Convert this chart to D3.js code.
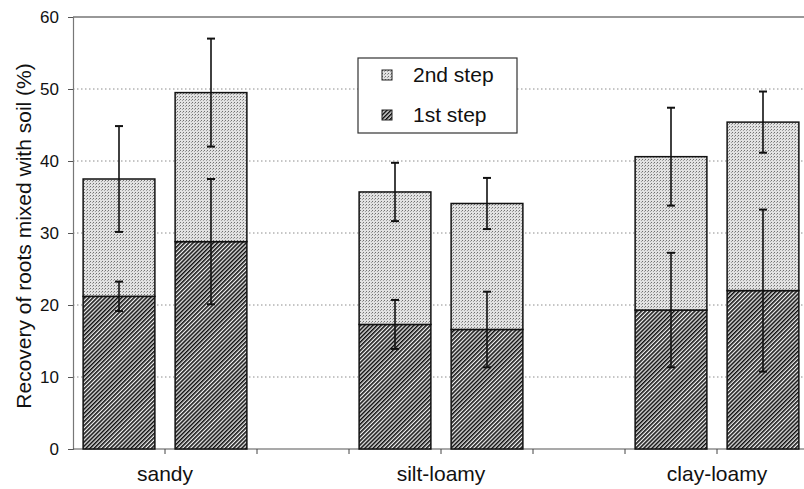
<!DOCTYPE html>
<html>
<head>
<meta charset="utf-8">
<script src="https://cdn.jsdelivr.net/npm/d3@7"></script>
<style>
  body { margin: 0; background: #fff; }
  svg { display: block; font-family: "Liberation Sans", Arial, sans-serif; }
</style>
</head>
<body>
<svg id="chart" width="804" height="489"></svg>
<script>
// soil types and the two bars in each group
const soilTypes = ["sandy", "silt-loamy", "clay-loamy"];
const slots = ["sandy-a", "sandy-b", "gap-1", "silt-a", "silt-b", "gap-2", "clay-a", "clay-b"];
const barSlots = ["sandy-a", "sandy-b", "silt-a", "silt-b", "clay-a", "clay-b"];

// recovery (%) per step
const firstStep  = [21.2, 28.8, 17.3, 16.6, 19.3, 22.0];
const secondStep = [16.3, 20.7, 18.4, 17.5, 21.3, 23.4];
// error bar half widths
const firstStepErr = [2.05, 8.7, 3.4, 5.25, 7.95, 11.25];
const totalErr     = [7.35, 7.5, 4.05, 3.55, 6.8, 4.25];

const yTicks = [0, 10, 20, 30, 40, 50, 60];
const legendItems = [
  { key: "second", label: "2nd step" },
  { key: "first", label: "1st step" }
];

const svg = d3.select("#chart");
const plotLeft = 73, plotRight = 809, plotTop = 17, plotBottom = 449;

const x = d3.scaleBand().domain(slots).range([plotLeft, plotRight])
  .paddingInner(0.22).paddingOuter(0.11);
const y = d3.scaleLinear().domain([0, 60]).range([plotBottom, plotTop]);

// patterns
const defs = svg.append("defs");
const dots = defs.append("pattern")
  .attr("id", "stipple").attr("patternUnits", "userSpaceOnUse")
  .attr("width", 3).attr("height", 3);
dots.append("rect").attr("width", 3).attr("height", 3).attr("fill", "#e2e2e2");
dots.append("rect").attr("width", 1).attr("height", 1).attr("fill", "#707070");
dots.append("rect").attr("x", 2).attr("y", 1).attr("width", 1).attr("height", 1).attr("fill", "#a0a0a0");

const hatch = defs.append("pattern")
  .attr("id", "hatch").attr("patternUnits", "userSpaceOnUse")
  .attr("width", 2.9).attr("height", 2.9)
  .attr("patternTransform", "rotate(45)");
hatch.append("rect").attr("width", 2.9).attr("height", 2.9).attr("fill", "#f0f0f0");
hatch.append("line").attr("x1", 0.8).attr("x2", 0.8).attr("y1", 0).attr("y2", 2.9)
  .attr("stroke", "#111").attr("stroke-width", 1.6);

const fills = { first: "url(#hatch)", second: "url(#stipple)" };

// gridlines
svg.append("g")
  .selectAll("line")
  .data(yTicks.filter(t => t > 0 && t < 60))
  .join("line")
  .attr("x1", plotLeft).attr("x2", 804)
  .attr("y1", d => y(d)).attr("y2", d => y(d))
  .attr("stroke", "#8c8c8c").attr("stroke-width", 1)
  .attr("stroke-dasharray", "1.5,2.5");

// top frame line
svg.append("line")
  .attr("x1", plotLeft).attr("x2", 804)
  .attr("y1", y(60)).attr("y2", y(60))
  .attr("stroke", "#333").attr("stroke-width", 1.2);

// y axis
const yAxis = svg.append("g")
  .attr("transform", `translate(${plotLeft},0)`)
  .call(d3.axisLeft(y).tickValues(yTicks).tickSize(5).tickPadding(9));
yAxis.select(".domain").attr("stroke", "#777").attr("stroke-width", 1.2);
yAxis.selectAll(".tick line").attr("stroke", "#555");
yAxis.selectAll("text").attr("font-size", 17).attr("fill", "#111")
  .attr("font-family", "Liberation Sans, Arial, sans-serif");

// x axis line and ticks at slot boundaries
svg.append("line")
  .attr("x1", plotLeft).attr("x2", 804)
  .attr("y1", y(0)).attr("y2", y(0))
  .attr("stroke", "#555").attr("stroke-width", 1.2);
svg.append("g")
  .selectAll("line")
  .data(d3.range(1, slots.length))
  .join("line")
  .attr("x1", i => plotLeft + i * x.step()).attr("x2", i => plotLeft + i * x.step())
  .attr("y1", y(0)).attr("y2", y(0) + 5)
  .attr("stroke", "#444").attr("stroke-width", 1);

// category labels centered on each pair
svg.append("g")
  .selectAll("text")
  .data(soilTypes)
  .join("text")
  .attr("x", (d, i) => plotLeft + (i * 3 + 1) * x.step())
  .attr("y", 481)
  .attr("text-anchor", "middle")
  .attr("font-size", 21)
  .attr("fill", "#111")
  .text(d => d);

// y label
svg.append("text")
  .attr("transform", `translate(31,${(plotTop + plotBottom) / 2 + 3}) rotate(-90)`)
  .attr("text-anchor", "middle")
  .attr("font-size", 21)
  .attr("fill", "#111")
  .text("Recovery of roots mixed with soil (%)");

// stacked bars
const rows = barSlots.map((slot, i) => ({ slot, first: firstStep[i], second: secondStep[i] }));
const stacked = d3.stack().keys(["first", "second"])(rows);

svg.append("g")
  .selectAll("g")
  .data(stacked)
  .join("g")
  .attr("fill", s => fills[s.key])
  .selectAll("rect")
  .data(s => s)
  .join("rect")
  .attr("x", d => x(d.data.slot))
  .attr("width", x.bandwidth())
  .attr("y", d => y(d[1]))
  .attr("height", d => y(d[0]) - y(d[1]))
  .attr("stroke", "#111")
  .attr("stroke-width", 1.5);

// error bars
const errRows = [];
stacked[0].forEach((d, i) => errRows.push({ slot: d.data.slot, v: d[1], e: firstStepErr[i] }));
stacked[1].forEach((d, i) => errRows.push({ slot: d.data.slot, v: d[1], e: totalErr[i] }));

const eb = svg.append("g").attr("stroke", "#111").attr("stroke-width", 1.6);
const cx = d => x(d.slot) + x.bandwidth() / 2;
eb.selectAll(".stem").data(errRows).join("line")
  .attr("x1", cx).attr("x2", cx)
  .attr("y1", d => y(d.v + d.e)).attr("y2", d => y(d.v - d.e));
eb.selectAll(".capTop").data(errRows).join("line")
  .attr("x1", d => cx(d) - 4).attr("x2", d => cx(d) + 4)
  .attr("y1", d => y(d.v + d.e)).attr("y2", d => y(d.v + d.e))
  .attr("stroke-width", 2);
eb.selectAll(".capBot").data(errRows).join("line")
  .attr("x1", d => cx(d) - 4).attr("x2", d => cx(d) + 4)
  .attr("y1", d => y(d.v - d.e)).attr("y2", d => y(d.v - d.e))
  .attr("stroke-width", 2);

// legend
const lg = svg.append("g");
lg.append("rect")
  .attr("x", 358).attr("y", 58).attr("width", 159).attr("height", 75)
  .attr("fill", "#fff").attr("stroke", "#333").attr("stroke-width", 1.2);
const li = lg.selectAll("g.item").data(legendItems).join("g")
  .attr("transform", (d, i) => `translate(382,${70 + i * 40})`);
li.append("rect")
  .attr("width", 10).attr("height", 10)
  .attr("fill", d => fills[d.key])
  .attr("stroke", "#222").attr("stroke-width", 1);
li.append("text")
  .attr("x", 31).attr("y", 12)
  .attr("font-size", 21)
  .attr("fill", "#111")
  .text(d => d.label);
</script>
</body>
</html>
